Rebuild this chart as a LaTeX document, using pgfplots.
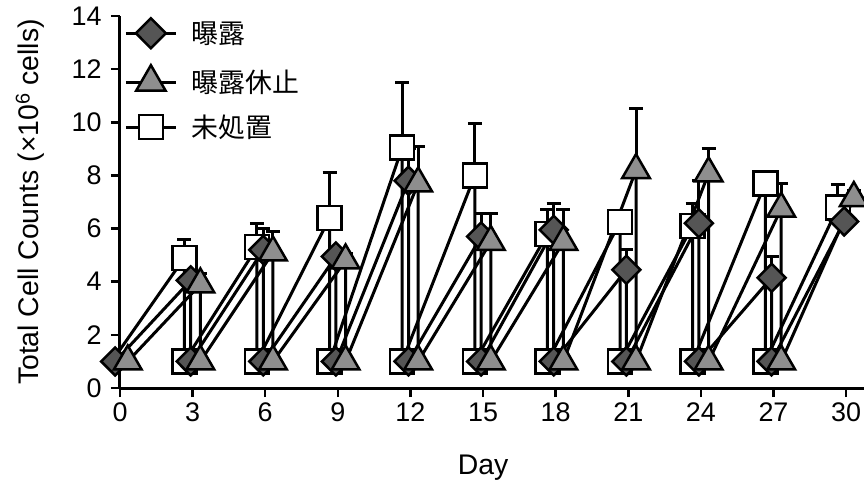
\documentclass[border=0pt]{standalone}
\usepackage{fontspec}
\setmainfont{Liberation Sans}
\newfontfamily\cjk{Noto Sans CJK JP}
\usepackage{pgfplots}
\pgfplotsset{compat=1.18}

\definecolor{exposed}{HTML}{555555}
\definecolor{paused}{HTML}{8E8E8E}

\begin{document}
\begin{tikzpicture}
\useasboundingbox (-120bp,-98bp) rectangle (744bp,388bp);
\begin{axis}[
  scale only axis, width=744bp, height=372bp,
  xmin=0, xmax=30.74, ymin=0, ymax=14,
  axis lines=left,
  axis line style={-, line width=3bp, black},
  xtick={0,3,...,30}, ytick={0,2,...,14},
  tick align=outside, major tick length=9bp,
  tick style={line width=2.5bp, black},
  tick label style={font=\fontsize{27}{32}\selectfont},
  yticklabel style={xshift=-6bp},
  xticklabel style={yshift=-2bp},
  /pgf/number format/assume math mode=true,
  xlabel={Day}, ylabel={Total Cell Counts (×10\textsuperscript{6} cells)},
  every axis x label/.style={at={([yshift=-80bp]axis cs:15,0)}, anchor=center,
    font=\fontsize{28.5}{34}\selectfont},
  every axis y label/.style={at={([xshift=-90bp]axis description cs:0,0.5)},
    anchor=center, rotate=90, font=\fontsize{28.5}{34}\selectfont},
  clip=false,
  legend style={draw=none, fill=none, at={(axis cs:0.05,14.0)}, anchor=north west,
    font=\cjk\fontsize{27}{31}\selectfont, row sep=17bp},
  legend cell align=left,
  legend image code/.code={\draw[mark repeat=2, mark phase=2, #1]
    plot coordinates {(0bp,0bp) (25bp,0bp) (50bp,0bp)};},
  every axis plot/.append style={line width=3bp, black},
]

% legend entries
\addlegendimage{black, line width=3bp, mark=diamond*, mark size=15bp,
  mark options={fill=exposed, draw=black, line width=2.5bp, xscale=1.33}}
\addlegendentry{\hspace{12bp}曝露}
\addlegendimage{black, line width=3bp, mark=triangle*, mark size=17bp,
  mark options={fill=paused, draw=black, line width=2.5bp}}
\addlegendentry{\hspace{12bp}曝露休止}
\addlegendimage{black, line width=3bp, mark=square*, mark size=12bp,
  mark options={fill=white, draw=black, line width=2.5bp}}
\addlegendentry{\hspace{12bp}未処置}

% upper error bars (mean + SD) at the end of each 3-day passage
\pgfplotsset{errstyle/.style={only marks, mark=none, forget plot,
  error bars/.cd, y dir=plus, y explicit,
  error bar style={black, line width=3bp},
  error mark options={black, line width=3bp, mark size=7bp, rotate=90}}}
\addplot[errstyle] coordinates {
  (2.66,4.9) +- (0,0.7)  (5.66,5.3) +- (0,0.9)  (8.66,6.4) +- (0,1.7)
  (11.66,9.05) +- (0,2.45) (14.66,8.0) +- (0,1.95) (17.66,5.8) +- (0,0.9)
  (20.66,6.25) +- (0,0.25) (23.66,6.1) +- (0,0.85) (26.66,7.7) +- (0,0.25)
  (29.66,6.8) +- (0,0.85)};
\addplot[errstyle] coordinates {
  (2.92,4.05) +- (0,0.3) (5.92,5.2) +- (0,0.8) (8.92,4.95) +- (0,0.25)
  (11.92,7.8) +- (0,1.2) (14.92,5.7) +- (0,0.85) (17.92,5.95) +- (0,1.0)
  (20.92,4.45) +- (0,0.75) (23.92,6.2) +- (0,1.6) (26.92,4.15) +- (0,0.8)
  (29.92,6.27) +- (0,0.3)};
\addplot[errstyle] coordinates {
  (3.32,3.9) +- (0,0.4) (6.32,5.1) +- (0,0.8) (9.32,4.8) +- (0,0.25)
  (12.32,7.7) +- (0,1.4) (15.32,5.5) +- (0,1.05) (18.32,5.5) +- (0,1.2)
  (21.32,8.2) +- (0,2.3) (24.32,8.08) +- (0,0.95) (27.32,6.75) +- (0,0.95)
  (30.32,7.15) +- (0,0.3)};

% untreated (seeded at 1 x 10^6 cells after every passage)
\addplot[forget plot] coordinates {(-0.34,1) (2.66,4.9)};
\addplot[forget plot, mark=square*, mark size=12bp,
  mark options={fill=white, draw=black, line width=2.5bp}] coordinates {
  (2.66,4.9) (2.66,1) (5.66,5.3) (5.66,1) (8.66,6.4) (8.66,1)
  (11.66,9.05) (11.66,1) (14.66,8.0) (14.66,1) (17.66,5.8) (17.66,1)
  (20.66,6.25) (20.66,1) (23.66,6.1) (23.66,1) (26.66,7.7) (26.66,1)
  (29.66,6.8)};

% exposed
\addplot[forget plot, mark=diamond*, mark size=14bp,
  mark options={fill=exposed, draw=black, line width=2.5bp, xscale=1.33}] coordinates {
  (-0.2,1) (2.92,4.05) (2.92,1) (5.92,5.2) (5.92,1) (8.92,4.95) (8.92,1)
  (11.92,7.8) (11.92,1) (14.92,5.7) (14.92,1) (17.92,5.95) (17.92,1)
  (20.92,4.45) (20.92,1) (23.92,6.2) (23.92,1) (26.92,4.15) (26.92,1)
  (29.92,6.27)};

% exposure paused
\addplot[forget plot, mark=triangle*, mark size=16bp,
  mark options={fill=paused, draw=black, line width=2.5bp}] coordinates {
  (0.32,1) (3.32,3.9) (3.32,1) (6.32,5.1) (6.32,1) (9.32,4.8) (9.32,1)
  (12.32,7.7) (12.32,1) (15.32,5.5) (15.32,1) (18.32,5.5) (18.32,1)
  (21.32,8.2) (21.32,1) (24.32,8.08) (24.32,1) (27.32,6.75) (27.32,1)
  (30.32,7.15)};
\end{axis}
\end{tikzpicture}
\end{document}
